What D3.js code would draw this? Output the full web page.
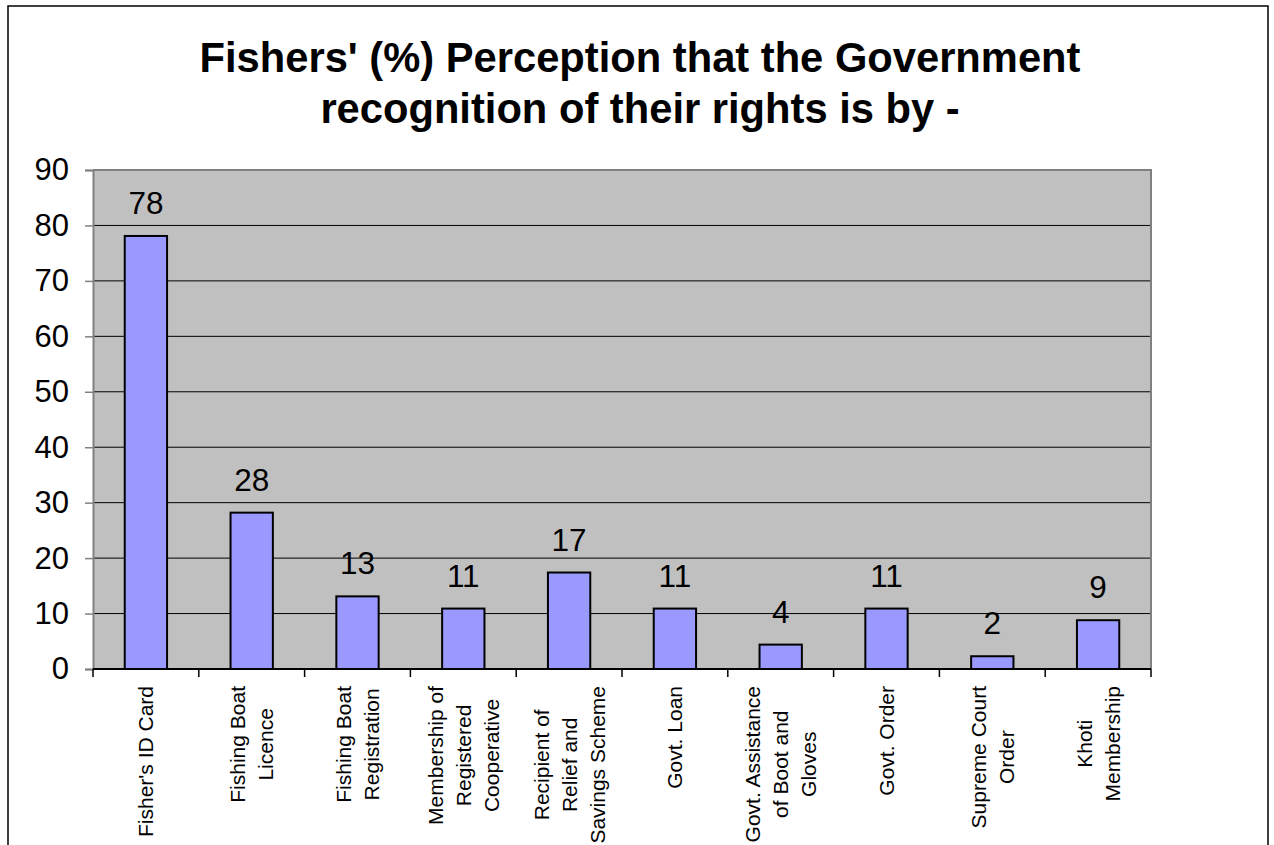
<!DOCTYPE html>
<html>
<head>
<meta charset="utf-8">
<script src="https://cdn.jsdelivr.net/npm/d3@7"></script>
<style>
  html, body { margin: 0; padding: 0; background: #fff; }
  svg { display: block; font-family: "Liberation Sans", Arial, sans-serif; }
</style>
</head>
<body>
<svg id="chart" width="1274" height="845"></svg>
<script>
// ---- data ----
const categories = [
  ["Fisher's ID Card"],
  ["Fishing Boat", "Licence"],
  ["Fishing Boat", "Registration"],
  ["Membership of", "Registered", "Cooperative"],
  ["Recipient of", "Relief and", "Savings Scheme"],
  ["Govt. Loan"],
  ["Govt. Assistance", "of Boot and", "Gloves"],
  ["Govt. Order"],
  ["Supreme Court", "Order"],
  ["Khoti", "Membership"]
];
const values = [78.1, 28.2, 13.1, 10.9, 17.4, 10.9, 4.4, 10.9, 2.3, 8.8];
const yTicks = [0, 10, 20, 30, 40, 50, 60, 70, 80, 90];
const titleLines = ["Fishers' (%) Perception that the Government", "recognition of their rights is by -"];

// ---- layout ----
const svg = d3.select("#chart");
const plot = { left: 93, right: 1151, top: 170, bottom: 669 };

// outer border
svg.append("rect").attr("x", 8).attr("y", 6).attr("width", 1260).attr("height", 860)
  .attr("fill", "#fff").attr("stroke", "#000").attr("stroke-width", 1.5);

// title
svg.append("g").selectAll("text").data(titleLines).join("text")
  .attr("x", 640).attr("y", (d, i) => 72 + i * 51)
  .attr("text-anchor", "middle").attr("font-weight", "bold").attr("font-size", 41.7)
  .attr("fill", "#000").text(d => d);

const keys = categories.map((d, i) => i);
const x = d3.scaleBand().domain(keys).range([plot.left, plot.right])
  .paddingInner(0.6).paddingOuter(0.3);
const y = d3.scaleLinear().domain([0, 90]).range([plot.bottom, plot.top]);

// plot area
svg.append("rect").attr("x", plot.left).attr("y", plot.top)
  .attr("width", plot.right - plot.left).attr("height", plot.bottom - plot.top)
  .attr("fill", "#C0C0C0");

// gridlines
svg.append("g").selectAll("line").data(yTicks.filter(t => t > 0 && t < 90)).join("line")
  .attr("x1", plot.left).attr("x2", plot.right)
  .attr("y1", d => y(d)).attr("y2", d => y(d))
  .attr("stroke", "#000").attr("stroke-width", 1);

// plot border top & right (gray)
svg.append("path")
  .attr("d", `M${plot.left},${y(90)}H${plot.right}V${plot.bottom}`)
  .attr("fill", "none").attr("stroke", "#808080").attr("stroke-width", 2);

// y axis
const yAxis = d3.axisLeft(y).tickValues(yTicks).tickSize(8).tickPadding(16).tickFormat(d3.format("d"));
const gy = svg.append("g").attr("transform", `translate(${plot.left},0)`).call(yAxis);
gy.select(".domain").attr("stroke", "#808080").attr("stroke-width", 2);
gy.selectAll(".tick line").attr("stroke", "#808080").attr("stroke-width", 1.5);
gy.selectAll(".tick text").attr("font-size", 31).attr("fill", "#000")
  .attr("font-family", "'Liberation Sans', Arial, sans-serif");

// bars
svg.append("g").selectAll("rect").data(values).join("rect")
  .attr("x", (d, i) => x(i)).attr("width", x.bandwidth())
  .attr("y", d => y(d)).attr("height", d => y(0) - y(d))
  .attr("fill", "#9999FF").attr("stroke", "#000").attr("stroke-width", 2);

// value labels
svg.append("g").selectAll("text").data(values).join("text")
  .attr("x", (d, i) => x(i) + x.bandwidth() / 2)
  .attr("y", d => y(d) - 22)
  .attr("text-anchor", "middle").attr("font-size", 31.5).attr("fill", "#000")
  .text(d => d3.format(".0f")(d));

// x axis line and ticks at category boundaries
const step = x.step();
const boundaries = d3.range(categories.length + 1).map(i => plot.left + i * step);
svg.append("line").attr("x1", plot.left).attr("x2", plot.right)
  .attr("y1", plot.bottom).attr("y2", plot.bottom)
  .attr("stroke", "#000").attr("stroke-width", 2);
svg.append("g").selectAll("line").data(boundaries).join("line")
  .attr("x1", d => d).attr("x2", d => d)
  .attr("y1", plot.bottom).attr("y2", plot.bottom + 8)
  .attr("stroke", "#000").attr("stroke-width", 1.5);

// x category labels (rotated, multi-line, centered lines)
const lh = 28, labelTop = 686;
const lg = svg.append("g");
categories.forEach((lines, i) => {
  const cx = x(i) + x.bandwidth() / 2;
  const g = lg.append("g").attr("transform", `translate(${cx},0) rotate(-90)`);
  const texts = g.selectAll("text").data(lines).join("text")
    .attr("text-anchor", "middle").attr("font-size", 21).attr("fill", "#000")
    .attr("dy", "0.36em")
    .attr("y", (d, j) => (j - (lines.length - 1) / 2) * lh)
    .text(d => d);
  let maxW = 0;
  texts.each(function () { maxW = Math.max(maxW, this.getComputedTextLength()); });
  texts.attr("x", -(labelTop + maxW / 2));
});
</script>
</body>
</html>
